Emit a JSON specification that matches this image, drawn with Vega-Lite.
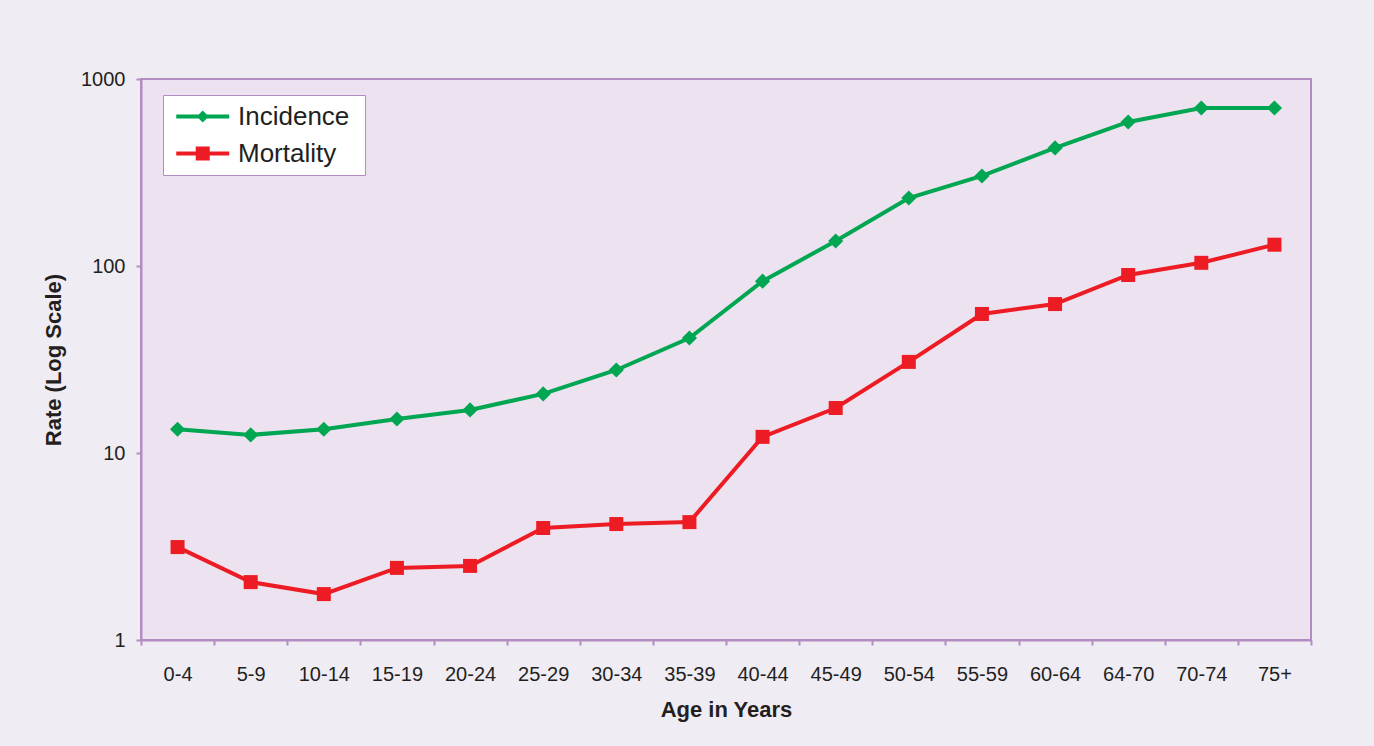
{
  "$schema": "https://vega.github.io/schema/vega-lite/v6.json",
  "width": 1170,
  "height": 561,
  "autosize": {"type": "none"},
  "padding": {"left": 141, "top": 79, "right": 63, "bottom": 106},
  "background": "#f0ecf4",
  "config": {
    "font": "Liberation Sans",
    "view": {"fill": "#ede2ef", "stroke": "#b48cc4", "strokeWidth": 2},
    "axis": {
      "grid": false,
      "domainColor": "#b48cc4",
      "domainWidth": 2,
      "tickColor": "#b48cc4",
      "tickWidth": 2,
      "tickSize": 5,
      "labelFont": "Liberation Sans",
      "labelFontSize": 20,
      "labelColor": "#231f20",
      "titleFont": "Liberation Sans",
      "titleFontSize": 22,
      "titleFontWeight": "bold",
      "titleColor": "#231f20"
    }
  },
  "data": {
    "values": [
      {"Age": "0-4", "Series": "Incidence", "Rate": 13.4},
      {"Age": "5-9", "Series": "Incidence", "Rate": 12.5},
      {"Age": "10-14", "Series": "Incidence", "Rate": 13.4},
      {"Age": "15-19", "Series": "Incidence", "Rate": 15.2},
      {"Age": "20-24", "Series": "Incidence", "Rate": 17.0},
      {"Age": "25-29", "Series": "Incidence", "Rate": 20.7},
      {"Age": "30-34", "Series": "Incidence", "Rate": 27.8},
      {"Age": "35-39", "Series": "Incidence", "Rate": 41.2},
      {"Age": "40-44", "Series": "Incidence", "Rate": 83},
      {"Age": "45-49", "Series": "Incidence", "Rate": 136},
      {"Age": "50-54", "Series": "Incidence", "Rate": 231},
      {"Age": "55-59", "Series": "Incidence", "Rate": 303},
      {"Age": "60-64", "Series": "Incidence", "Rate": 428},
      {"Age": "64-70", "Series": "Incidence", "Rate": 589},
      {"Age": "70-74", "Series": "Incidence", "Rate": 700},
      {"Age": "75+", "Series": "Incidence", "Rate": 700},
      {"Age": "0-4", "Series": "Mortality", "Rate": 3.14},
      {"Age": "5-9", "Series": "Mortality", "Rate": 2.04},
      {"Age": "10-14", "Series": "Mortality", "Rate": 1.76},
      {"Age": "15-19", "Series": "Mortality", "Rate": 2.43},
      {"Age": "20-24", "Series": "Mortality", "Rate": 2.49},
      {"Age": "25-29", "Series": "Mortality", "Rate": 3.97},
      {"Age": "30-34", "Series": "Mortality", "Rate": 4.17},
      {"Age": "35-39", "Series": "Mortality", "Rate": 4.27},
      {"Age": "40-44", "Series": "Mortality", "Rate": 12.2},
      {"Age": "45-49", "Series": "Mortality", "Rate": 17.4},
      {"Age": "50-54", "Series": "Mortality", "Rate": 30.7},
      {"Age": "55-59", "Series": "Mortality", "Rate": 55.4},
      {"Age": "60-64", "Series": "Mortality", "Rate": 62.6},
      {"Age": "64-70", "Series": "Mortality", "Rate": 89.5},
      {"Age": "70-74", "Series": "Mortality", "Rate": 104},
      {"Age": "75+", "Series": "Mortality", "Rate": 130}
    ]
  },
  "encoding": {
    "x": {
      "field": "Age",
      "type": "ordinal",
      "sort": null,
      "scale": {"type": "band", "paddingInner": 0, "paddingOuter": 0},
      "axis": {
        "title": "Age in Years",
        "labelAngle": 0,
        "tickBand": "extent",
        "labelPadding": 19,
        "titlePadding": 15
      }
    },
    "y": {
      "field": "Rate",
      "type": "quantitative",
      "scale": {"type": "log", "domain": [1, 1000]},
      "axis": {
        "title": "Rate (Log Scale)",
        "values": [1, 10, 100, 1000],
        "format": "d",
        "labelPadding": 11,
        "titlePadding": 15
      }
    }
  },
  "resolve": {"legend": {"color": "independent", "shape": "independent"}},
  "layer": [
    {
      "mark": {"type": "line", "strokeWidth": 4},
      "encoding": {
        "color": {
          "field": "Series",
          "type": "nominal",
          "scale": {"domain": ["Incidence", "Mortality"], "range": ["#00a651", "#ed1c24"]},
          "legend": null
        }
      }
    },
    {
      "transform": [{"filter": "datum.Series === 'Incidence'"}],
      "mark": {"type": "point", "shape": "diamond", "filled": true, "size": 230, "opacity": 1},
      "encoding": {
        "color": {"field": "Series", "type": "nominal", "legend": null}
      }
    },
    {
      "transform": [{"filter": "datum.Series === 'Mortality'"}],
      "mark": {"type": "point", "shape": "square", "filled": true, "size": 196, "opacity": 1},
      "encoding": {
        "color": {"field": "Series", "type": "nominal", "legend": null}
      }
    },
    {
      "mark": {"type": "point", "filled": true, "size": 0, "opacity": 1},
      "encoding": {
        "color": {
          "field": "Series",
          "type": "nominal",
          "legend": {
            "title": null,
            "orient": "none",
            "legendX": 22,
            "legendY": 16,
            "fillColor": "white",
            "strokeColor": "#b48cc4",
            "padding": 8,
            "labelFont": "Liberation Sans",
            "labelFontSize": 26,
            "labelColor": "#231f20",
            "labelOffset": 40,
            "symbolSize": 702,
            "symbolStrokeWidth": 0,
            "rowPadding": 10
          }
        },
        "shape": {
          "field": "Series",
          "type": "nominal",
          "scale": {
            "domain": ["Incidence", "Mortality"],
            "range": [
              "M-0.623,-0.15H3.377V0.15H-0.623Z M1.377,-0.46L1.837,0L1.377,0.46L0.917,0Z M13,0L13.01,0L13,0.01Z",
              "M-0.623,-0.15H3.377V0.15H-0.623Z M0.847,-0.53H1.907V0.53H0.847Z M13,0L13.01,0L13,0.01Z"
            ]
          },
          "legend": {
            "title": null,
            "orient": "none",
            "legendX": 22,
            "legendY": 16,
            "fillColor": "white",
            "strokeColor": "#b48cc4",
            "padding": 8,
            "labelFont": "Liberation Sans",
            "labelFontSize": 26,
            "labelColor": "#231f20",
            "labelOffset": 40,
            "symbolSize": 702,
            "symbolStrokeWidth": 0,
            "rowPadding": 10
          }
        }
      }
    }
  ]
}
